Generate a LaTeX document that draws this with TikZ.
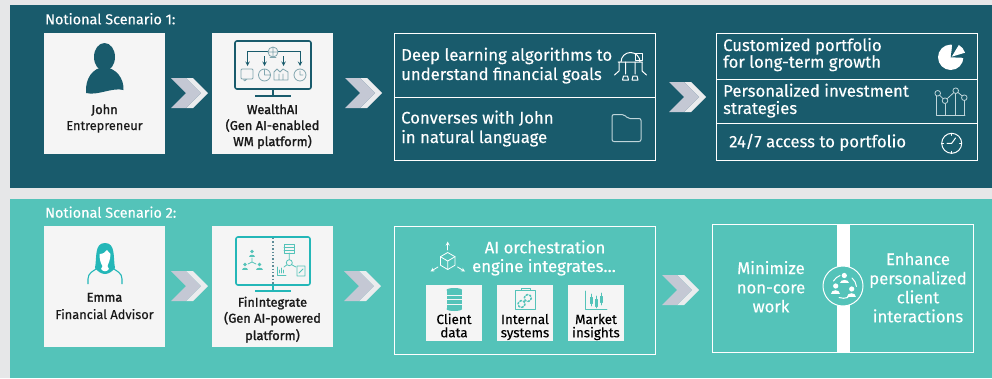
\documentclass[tikz,border=0pt]{standalone}
\usepackage{fontspec}
\setmainfont{Fira Sans}[FakeBold=0.25]
\newfontfamily\namefont{Fira Sans}[FakeBold=1.6]
\usepackage{xcolor}
\usetikzlibrary{arrows, positioning}
\definecolor{pagegray}{HTML}{E6E7E8}
\definecolor{darkteal}{HTML}{195B6C}
\definecolor{lightteal}{HTML}{54C3B9}
\definecolor{iconteal}{HTML}{24B7B8}
\definecolor{cardwhite}{HTML}{F5F5F5}
\definecolor{chevgray}{HTML}{C4C8D4}
\definecolor{chevlight}{HTML}{EBECEE}
\definecolor{softline}{HTML}{BFD5DA}
\newcommand{\sized}[1]{\fontsize{#1}{#1}\selectfont}
\tikzstyle{card} = [rectangle, fill=cardwhite, inner sep=0pt, minimum width=121pt, minimum height=121pt]
\tikzstyle{tile} = [rectangle, fill=cardwhite, inner sep=0pt, minimum width=56pt, minimum height=56pt]
\tikzstyle{outline} = [rectangle, draw=white, line width=1pt, inner sep=0pt, minimum width=261pt]
\tikzstyle{rule} = [draw=white, line width=1pt]
\tikzstyle{head} = [anchor=base west, text=white, inner sep=0pt, font=\sized{14.4}]
\tikzstyle{cardtext} = [anchor=base, text=black!90, inner sep=0pt, font=\sized{12.8}]
\tikzstyle{cardname} = [cardtext, font=\sized{12.8}\namefont]
\tikzstyle{tiletext} = [anchor=base, text=black, inner sep=0pt, font=\sized{13.4}]
\tikzstyle{bodytext} = [anchor=base west, text=white, inner sep=0pt, font=\sized{16.7}]
\tikzstyle{midtext} = [bodytext, anchor=base]
\tikzstyle{thin icon} = [line width=0.8pt, line cap=round, line join=round]
\tikzstyle{arrow} = [->,>=stealth]
\tikzset{every node/.style={align=center}}
\tikzset{chevron/.pic={
    \fill[chevlight] (15,-15) -- (22,-15) -- (37,0) -- (22,15) -- (15,15) -- (30,0) -- cycle;
    \fill[chevgray] (0,-15) -- (15,-15) -- (30,0) -- (15,15) -- (0,15) -- (15,0) -- cycle;
}}
\tikzset{user/.pic={
    \fill (0,-3.5) circle (2.6);
    \fill (-4.5,4) .. controls (-4.5,-0.5) and (4.5,-0.5) .. (4.5,4) -- cycle;
}}
\begin{document}
\begin{tikzpicture}[x=1pt, y=-1pt, node distance=168pt]
    \useasboundingbox (0,0) rectangle (992,378);
    \fill[pagegray] (0,0) rectangle (992,378);
    \fill[darkteal] (10,5) rectangle (992,188);
    \fill[lightteal] (10,199) rectangle (992,378);

    % scenario 1
    \node (headA)  [head] at (45,24.3) {Notional Scenario 1:};
    \node (john)   [card] at (104.5,93.5) {};
    \node (wealth) [card, right of=john] {};
    \node (johnName)  [cardname] at (104.5,114) {John};
    \node (johnRole)  [cardtext] at (104.5,130) {Entrepreneur};
    \node (wealthTxt)  [cardname] at (272.5,114) {WealthAI};
    \node (wealthTxt2) [cardname] at (272.5,130) {(Gen AI-enabled};
    \node (wealthTxt3) [cardname] at (272.5,146) {WM platform)};
    \node (learn)  [outline, minimum height=127pt, right of=wealth, xshift=84.25pt, yshift=-3pt] {};
    \node (result) [outline, minimum height=127pt, right of=learn, xshift=154pt] {};
    \draw [rule] (learn.west |- 0,97) -- (learn.east |- 0,97);
    \draw [rule] (result.west |- 0,79.5) -- (result.east |- 0,79.5);
    \draw [rule] (result.west |- 0,123) -- (result.east |- 0,123);
    \node (learnA)  [bodytext] at (401,60.7) {Deep learning algorithms to};
    \node (learnA2) [bodytext] at (401,80) {understand financial goals};
    \node (learnB)  [bodytext] at (401,123.5) {Converses with John};
    \node (learnB2) [bodytext] at (401,143) {in natural language};
    \node (resA)  [bodytext] at (723,51) {Customized portfolio};
    \node (resA2) [bodytext] at (723,67.7) {for long-term growth};
    \node (resB)  [bodytext] at (723,96.7) {Personalized investment};
    \node (resB2) [bodytext] at (723,114) {strategies};
    \node (resC)  [bodytext] at (729,147.3) {24/7 access to portfolio};

    \pic at (171,93) {chevron};
    \pic at (345,93) {chevron};
    \pic at (669,97) {chevron};

    % john
    \fill[darkteal] (104.5,57) ellipse (10.5 and 14);
    \fill[darkteal] (86,93) .. controls (85,78) and (93,68) .. (104,67) .. controls (116,68) and (124,78) .. (123.5,90) .. controls (112,87) and (98,96) .. (86,93) -- cycle;

    % wealth monitor
    \draw[darkteal, line width=1.6pt, rounded corners=2pt] (235,41) rectangle (311,89);
    \draw[darkteal, line width=1.6pt] (273,89) -- (273,96) (255,96) -- (291,96);
    \begin{scope}[darkteal, line width=1pt, arrow]
        \draw (268,51) -- (247.5,51) -- (247.5,66);
        \draw (264.5,56) -- (264.5,66);
        \draw (283.5,56) -- (283.5,66);
        \draw (278,51) -- (300,51) -- (300,66);
    \end{scope}
    \begin{scope}[thin icon, draw=darkteal!55]
        \draw (273,52) circle (5) (268,52) -- (278,52) (273,47) -- (273,57) (270,57.5) -- (276,57.5);
        \draw[rounded corners=1pt] (241,69) rectangle (253,79) (244,79) -- (244,81.5) -- (247,79);
        \draw (264.5,75) circle (6) (264.5,75) -- (264.5,69) (264.5,75) -- (270.5,75);
        \draw (274,80) -- (274,72) -- (277,69) -- (280,72) -- (283,69) -- (288,72) -- (288,80) -- cycle (279,80) -- (279,74) (283,80) -- (283,74);
        \draw (300,75) circle (6) (300,75) -- (300,71) (300,75) -- (303,75);
    \end{scope}

    % learn icons
    \begin{scope}[white, thin icon, line width=1pt]
        \draw (621,62) arc (180:360:9.5) (618,62) -- (642,62);
        \draw (635,53) rectangle (642,60);
        \draw (625.5,62) -- (625.5,74) (635,62) -- (635,74) (619,62) -- (619,71) -- (614.5,75) (642,62) -- (642,71) -- (646.5,75);
        \draw (622.5,80) -- (628.5,80) -- (627.5,76) -- (623.5,76) -- cycle (632,80) -- (638,80) -- (637,76) -- (633,76) -- cycle;
    \end{scope}
    \draw[softline, line width=1pt, rounded corners=2pt] (612,114.5) -- (624,114.5) -- (628,118.5) -- (641,118.5) -- (641,141.5) -- (612,141.5) -- cycle;

    % result icons
    \fill[white] (950.7,57.3) circle (12.7);
    \fill[darkteal] (950.7,57.3) -- (952.5,43) -- (968,43) -- (968,58) -- cycle;
    \fill[white] (951.7,56.7) -- (965,52.7) arc (-17:-60:13.5) -- cycle;
    \begin{scope}[softline, thin icon]
        \draw (936.7,96) -- (936.7,115) -- (965,115) (964.3,100.7) -- (964.3,115) (955.7,93.7) -- (955.7,115) (945,103.7) -- (945,115);
        \draw (937.7,93.3) circle (2.8) (945,100.7) circle (2.8) (955.7,90.7) circle (2.8) (964.3,97.7) circle (2.8);
        \draw (939.7,95.3) -- (943,98.7) (947,98.8) -- (953.7,92.7) (958,92.5) -- (962,95.8);
    \end{scope}
    \begin{scope}[white, thin icon, line width=1pt]
        \draw (951.7,143.3) circle (10);
        \draw (947,143.3) -- (951.7,143.3) -- (955.5,138);
        \draw (951.7,133.3) -- (951.7,135.3) (951.7,151.3) -- (951.7,153.3) (941.7,143.3) -- (943.7,143.3) (959.7,143.3) -- (961.7,143.3);
    \end{scope}

    % scenario 2
    \node (headB)  [head] at (45,217.7) {Notional Scenario 2:};
    \node (emma)   [card] at (104.5,286.5) {};
    \node (finint) [card, right of=emma] {};
    \node (emmaName) [cardname] at (104.5,301.7) {Emma};
    \node (emmaRole) [cardtext] at (104.5,319) {Financial Advisor};
    \node (finTxt)  [cardname] at (272.5,306.7) {FinIntegrate};
    \node (finTxt2) [cardname] at (272.5,322.7) {(Gen AI-powered};
    \node (finTxt3) [cardname] at (272.5,340) {platform)};
    \node (engine)  [outline, minimum height=128pt, right of=finint, xshift=84.25pt, yshift=-3.5pt] {};
    \node (enhance) [outline, minimum height=128pt, right of=engine, xshift=150.5pt, yshift=2pt] {};
    \node (engineTxt)  [midtext] at (545,253.3) {AI orchestration};
    \node (engineTxt2) [midtext] at (544,272) {engine integrates\ldots};
    \node (clientTile) [tile] at (454,313) {};
    \node (sysTile)    [tile, right of=clientTile, node distance=71pt] {};
    \node (marketTile) [tile, right of=sysTile, node distance=71pt] {};
    \node (clientTxt) [tiletext] at (454,324) {Client};
    \node (clientTx2) [tiletext] at (454,337.3) {data};
    \node (sysTxt)    [tiletext] at (525,324) {Internal};
    \node (sysTx2)    [tiletext] at (525,337.3) {systems};
    \node (marketTxt) [tiletext] at (596,324) {Market};
    \node (marketTx2) [tiletext] at (596,337.3) {insights};
    \fill[white] (837,224) rectangle (850,352);
    \node (minTxt)  [midtext] at (771,274) {Minimize};
    \node (minTxt2) [midtext] at (771,293.3) {non-core};
    \node (minTxt3) [midtext] at (771,312.3) {work};
    \node (enhTxt)  [midtext] at (918,265) {Enhance};
    \node (enhTxt2) [midtext] at (918,284.3) {personalized};
    \node (enhTxt3) [midtext] at (918,303.3) {client};
    \node (enhTxt4) [midtext] at (918,322.3) {interactions};
    \node (hub) [circle, draw=white, fill=lightteal, line width=1pt, inner sep=0pt, minimum size=40pt] at (843,286) {};

    \pic at (171,286) {chevron};
    \pic at (344,286) {chevron};
    \pic at (662,290) {chevron};

    % emma
    \draw[iconteal, line width=1.1pt] (88,284) -- (88,279) .. controls (88,273) and (93,271) .. (98,268) (122,284) -- (122,279) .. controls (122,273) and (117,271) .. (112,268);
    \fill[iconteal] (95,268) .. controls (97,258) and (94,243) .. (105,243) .. controls (116,243) and (113,258) .. (115,268) .. controls (112,272) and (108,274) .. (105,274) .. controls (102,274) and (98,272) .. (95,268) -- cycle;
    \fill[white] (99.5,254) .. controls (103,254) and (106,252) .. (107,250) .. controls (108,252) and (110,253) .. (110.5,254) .. controls (110.5,260) and (108,264) .. (107.5,266) -- (109,269) .. controls (107,272) and (103,272) .. (101,269) -- (102.5,266) .. controls (101,264) and (99.5,260) .. (99.5,254) -- cycle;

    % finintegrate monitor
    \draw[iconteal, line width=1.6pt, rounded corners=2pt] (236,237) rectangle (310,285);
    \draw[iconteal, line width=1.6pt] (273,285) -- (273,291) (255,291) -- (291,291);
    \draw[darkteal!70, line width=1.4pt, dotted] (273,238) -- (273,284);
    \begin{scope}[lightteal]
        \pic[scale=0.7] at (252,254) {user};
        \pic[scale=0.7] at (245,267) {user};
        \pic[scale=0.7] at (259.5,267) {user};
    \end{scope}
    \begin{scope}[thin icon, draw=lightteal]
        \draw (252,258) -- (252,262) -- (248,264) (252,262) -- (256,264);
        \draw (284,244) rectangle (294,253) (284,247) -- (294,247) (284,250) -- (294,250);
        \draw (289.3,262.7) circle (3) (289.3,253) -- (289.3,259.7) (287,264.7) -- (284,267) (291.6,264.7) -- (296,267);
        \draw (277,267) -- (277,275) -- (286,275) (279,273) -- (279,270) (281,273) -- (281,268) (283,273) -- (283,270);
        \draw (297,266) rectangle (305,276) (299,273) -- (303,269);
    \end{scope}

    % engine icons
    \begin{scope}[white, thin icon]
        \draw (447.7,252.5) -- (455,256.7) -- (455,265.2) -- (447.7,269.5) -- (440.4,265.2) -- (440.4,256.7) -- cycle;
        \draw (440.4,256.7) -- (447.7,261) -- (455,256.7) (447.7,261) -- (447.7,269.5);
        \draw[arrow] (447.7,250) -- (447.7,241.5);
        \draw[arrow] (438,267) -- (430.5,271.5);
        \draw[arrow] (457.5,267) -- (465,271.5);
    \end{scope}
    \fill[lightteal] (446.5,290) rectangle (462,309);
    \begin{scope}[cardwhite, line width=0.7pt]
        \draw (446.5,295) -- (462,295) (446.5,299.5) -- (462,299.5) (446.5,304) -- (462,304);
    \end{scope}
    \fill[lightteal] (454.25,290) ellipse (7.75 and 2);
    \fill[lightteal] (454.25,309) ellipse (7.75 and 2);
    \begin{scope}[thin icon, draw=lightteal]
        \draw (515.7,290.5) rectangle (535,309.5) (521,290.5) -- (521,288.7) -- (530,288.7) -- (530,290.5);
        \draw[dotted, line width=1.6pt] (521.5,304) circle (3.5) (527.8,298) circle (3.5);
        \draw (585.7,291) -- (585.7,309.5) -- (607,309.5);
        \draw (590,297) rectangle (592,303) (595.5,299) rectangle (597.5,306) (600.5,296) rectangle (602.5,302);
        \draw (591,294) -- (591,306) (596.5,296) -- (596.5,308) (601.5,293) -- (601.5,305);
    \end{scope}

    % hub people
    \begin{scope}[white]
        \pic at (844.3,279) {user};
        \pic at (835.7,289.5) {user};
        \pic at (851.7,292.5) {user};
    \end{scope}
    \begin{scope}[white, thin icon, line width=1pt]
        \draw (833.5,281) arc (210:250:12.5);
        \draw (852,278) arc (-50:-5:12.5);
        \draw (839,297.5) arc (110:70:13);
    \end{scope}
\end{tikzpicture}
\end{document}
